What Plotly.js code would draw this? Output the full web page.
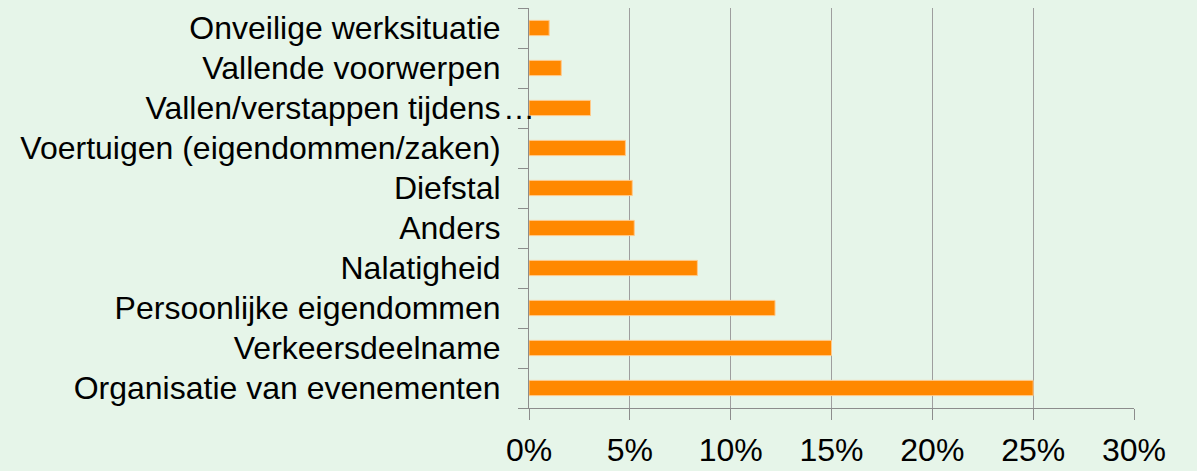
<!DOCTYPE html>
<html>
<head>
<meta charset="utf-8">
<script src="https://cdn.plot.ly/plotly-3.0.1.min.js"></script>
<style>html,body{margin:0;padding:0;background:#E6F5E9;}</style>
</head>
<body>
<div id="chart" style="width:1197px;height:471px;"></div>
<script>
const categories = [
  "Organisatie van evenementen",
  "Verkeersdeelname",
  "Persoonlijke eigendommen",
  "Nalatigheid",
  "Anders",
  "Diefstal",
  "Voertuigen (eigendommen/zaken)",
  "Vallen/verstappen tijdens…",
  "Vallende voorwerpen",
  "Onveilige werksituatie"
];
const values = [25.0, 15.0, 12.2, 8.35, 5.22, 5.12, 4.78, 3.05, 1.6, 1.0];
const xTickVals = [0, 5, 10, 15, 20, 25, 30];
const xTickText = ["0%", "5%", "10%", "15%", "20%", "25%", "30%"];

const ELL = "…";
const tickText = categories.map(c => c.endsWith(ELL) ? c.slice(0, -1) : c);
const annotations = categories.filter(c => c.endsWith(ELL)).map(c => ({
  text: ELL, xref: "paper", yref: "y", x: -0.0465, y: c,
  xanchor: "left", yanchor: "middle", showarrow: false,
  font: {family: "Liberation Sans, Arial, sans-serif", size: 32, color: "#000"}
}));

const trace = {
  type: "bar", orientation: "h",
  x: values, y: categories,
  marker: {color: "#FF8800", line: {color: "#FFC98A", width: 1}},
  hoverinfo: "x+y"
};

const layout = {
  width: 1197, height: 471,
  margin: {l: 529, r: 63, t: 8, b: 63},
  paper_bgcolor: "#E6F5E9", plot_bgcolor: "#E6F5E9",
  bargap: 0.62,
  showlegend: false,
  font: {family: "Liberation Sans, Arial, sans-serif", size: 32, color: "#000"},
  xaxis: {
    range: [0, 30], tickvals: xTickVals, ticktext: xTickText,
    showgrid: true, gridcolor: "#9E9E9E", gridwidth: 1,
    zeroline: false, showline: true, linecolor: "#8C8C8C", linewidth: 1,
    ticks: "outside", ticklen: 11, tickcolor: "#8C8C8C",
    ticklabelstandoff: 3,
    tickfont: {size: 32}, fixedrange: true
  },
  yaxis: {
    type: "category", categoryorder: "array", categoryarray: categories,
    tickvals: categories, ticktext: tickText,
    showgrid: false, zeroline: false, showline: true, linecolor: "#8C8C8C", linewidth: 1,
    ticks: "outside", ticklen: 10, tickcolor: "#8C8C8C",
    tickson: "boundaries",
    ticklabelstandoff: 21,
    tickfont: {size: 32}, fixedrange: true
  },
  annotations: annotations
};

Plotly.newPlot("chart", [trace], layout, {displayModeBar: false, staticPlot: true});
</script>
</body>
</html>
